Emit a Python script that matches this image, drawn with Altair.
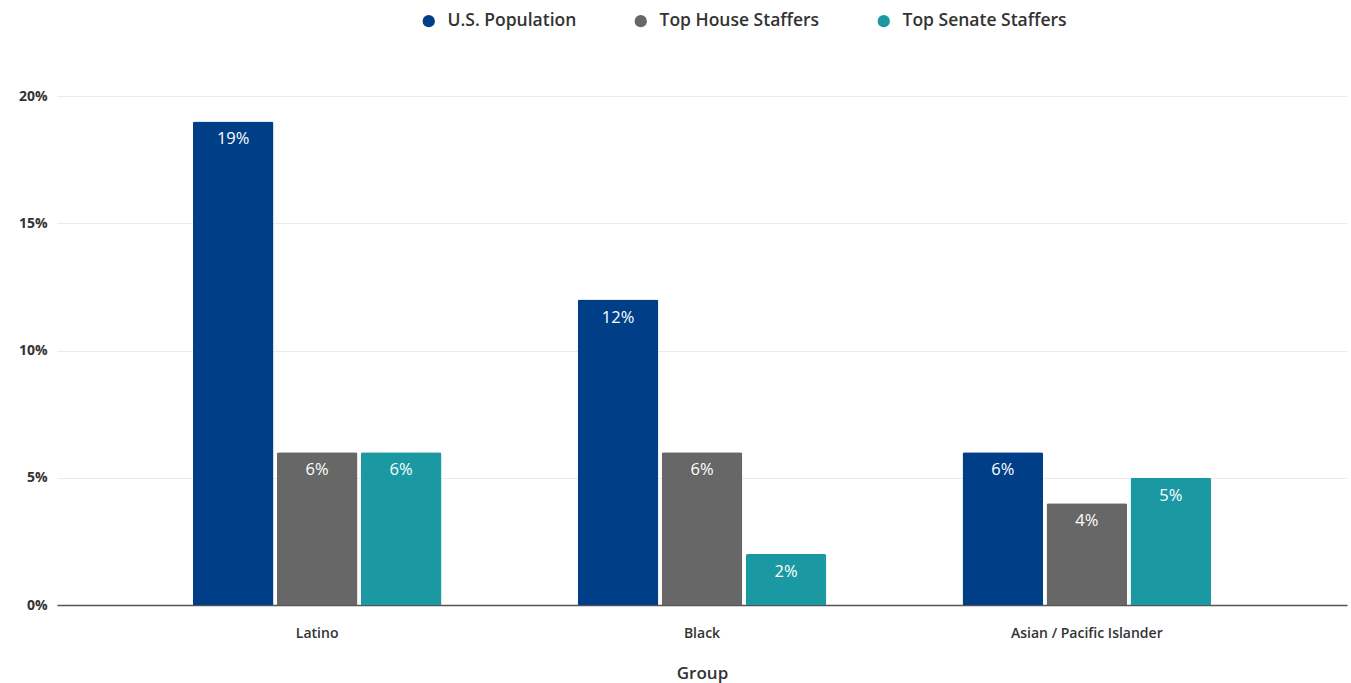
import altair as alt
import pandas as pd

groups = ["Latino", "Black", "Asian / Pacific Islander"]
series = ["U.S. Population", "Top House Staffers", "Top Senate Staffers"]
us_pop = [19, 12, 6]
house = [6, 6, 4]
senate = [6, 2, 5]
colors = ["#003f87", "#676767", "#1a99a3"]

rows = []
for i, g in enumerate(groups):
    for s, vals in zip(series, [us_pop, house, senate]):
        rows.append({"Group": g, "Series": s, "Value": vals[i], "Label": f"{vals[i]}%"})
df = pd.DataFrame(rows)

font = "Open Sans"

x = alt.X("Group:N", sort=groups, title="Group",
          scale=alt.Scale(paddingInner=0.354, paddingOuter=0.353),
          axis=alt.Axis(labelAngle=0, labelFontSize=14, labelFontWeight=600, labelColor="#333",
                        labelPadding=21, ticks=False, domainColor="#555", domainWidth=1.5,
                        titleFontSize=17, titleFontWeight=600, titleColor="#333", titlePadding=25))
xo = alt.XOffset("Series:N", sort=series, scale=alt.Scale(paddingInner=0.04))
y = alt.Y("Value:Q", title=None, scale=alt.Scale(domain=[0, 20]),
          axis=alt.Axis(values=[0, 5, 10, 15, 20], labelExpr="datum.value + '%'",
                        labelFontSize=14, labelFontWeight="bold", labelColor="#333",
                        ticks=False, domain=False, labelPadding=10,
                        gridColor="#ebebeb"))
color = alt.Color("Series:N", sort=series,
                  scale=alt.Scale(domain=series, range=colors),
                  legend=alt.Legend(title=None, orient="none", direction="horizontal",
                                    legendX=363, legendY=-84, symbolType="circle",
                                    symbolSize=150, labelFontSize=17.5, labelFontWeight=600,
                                    labelColor="#333", columnPadding=55, symbolStrokeWidth=0,
                                    labelOffset=10, labelLimit=300))

bars = alt.Chart(df).mark_bar(cornerRadiusTopLeft=2, cornerRadiusTopRight=2).encode(
    x=x, xOffset=xo, y=y, color=color)

text = alt.Chart(df).mark_text(color="white", fontSize=16.5, font="Open Sans",
                               baseline="middle", dy=18).encode(
    x=alt.X("Group:N", sort=groups), xOffset=alt.XOffset("Series:N", sort=series),
    y="Value:Q", text="Label:N")

chart = (bars + text).properties(
    width=1290, height=509,
    autosize=alt.AutoSizeParams(type="none"),
    padding={"left": 57, "top": 96, "right": 4, "bottom": 78},
).configure(font=font).configure_view(stroke=None)

chart.save("out.html", embed_options={"renderer": "svg", "actions": False})
